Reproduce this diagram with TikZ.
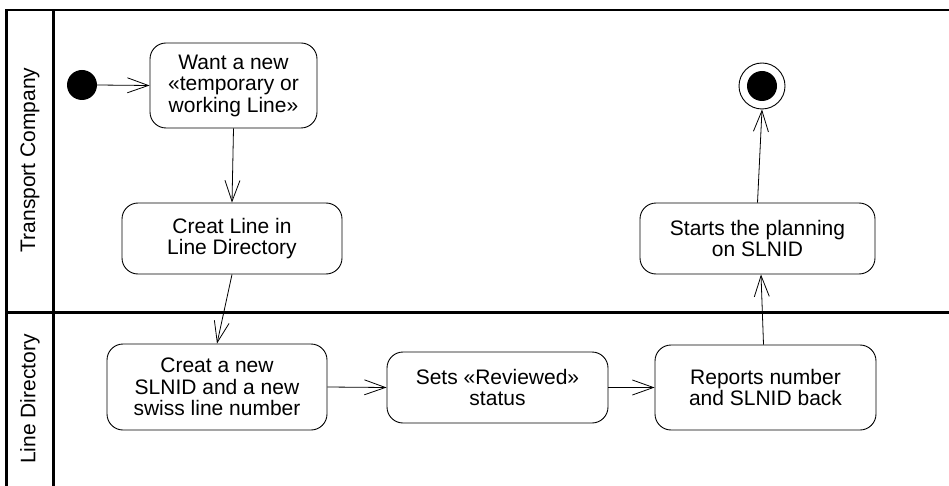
\documentclass[tikz,border=0pt]{standalone}
\usepackage{fontspec}
\setmainfont{Liberation Sans}
\usetikzlibrary{arrows.meta}
\begin{document}
\begin{tikzpicture}[x=1pt,y=-1pt,
  act/.style={draw,line width=0.9pt,rounded corners=16pt,align=center,
    font=\fontsize{21}{21.5}\selectfont,inner sep=0pt},
  lane/.style={line width=2.8pt},
  flow/.style={line width=0.8pt,-{Straight Barb[length=21pt,width=15pt,line width=0.8pt]}},
  lanelabel/.style={rotate=90,font=\fontsize{21}{24}\selectfont,inner sep=0pt}]
\useasboundingbox (0,0) rectangle (949,486);
% swimlane frame
\draw[lane] (6.5,486) -- (6.5,10) -- (949,10);
\draw[lane] (53.3,486) -- (53.3,10);
\draw[lane] (6.5,312.7) -- (949,312.7);
\node[lanelabel] (ltc) at (30,160) {Transport Company};
\node[lanelabel] (lld) at (30,399) {Line Directory};
% nodes
\fill (82,85) circle (15);
\coordinate (init) at (97,85);
\node[act,minimum width=167pt,minimum height=85pt] (want) at (233.5,85.5) {Want a new\\«temporary or\\working Line»};
\node[act,minimum width=220pt,minimum height=71pt] (creatline) at (232,238.5) {Creat Line in\\Line Directory};
\node[act,minimum width=235pt,minimum height=71pt] (starts) at (757.5,238.5) {Starts the planning\\on SLNID};
\node[act,minimum width=220pt,minimum height=86pt] (creatnew) at (217,387) {Creat a new\\SLNID and a new\\swiss line number};
\node[act,minimum width=221pt,minimum height=71pt] (sets) at (497.5,387.5) {Sets «Reviewed»\\status};
\node[act,minimum width=221pt,minimum height=85pt] (reports) at (765.5,387.5) {Reports number\\and SLNID back};
\node[draw,circle,line width=0.9pt,minimum size=46pt,inner sep=0pt] (final) at (762,86) {};
\fill (final.center) circle (15);
% connectors
\draw[flow] (init) -- (want.west);
\draw[flow] (want.south) -- (creatline.north);
\draw[flow] (creatline.south) -- (creatnew.north);
\draw[flow] (creatnew.east) -- (sets.west);
\draw[flow] (sets.east) -- (reports.west);
\draw[flow] ([xshift=-2pt]reports.north) -- ([xshift=3.5pt]starts.south);
\draw[flow] (starts.north) -- (final.south);
\end{tikzpicture}
\end{document}
